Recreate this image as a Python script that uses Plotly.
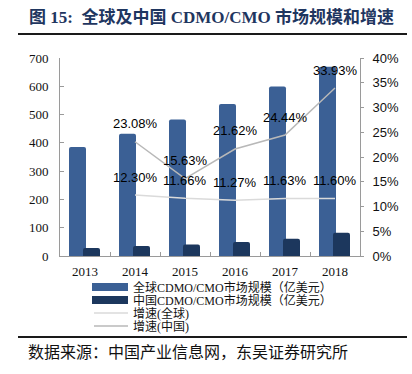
import plotly.graph_objects as go

# ---- data ----
years = ["2013", "2014", "2015", "2016", "2017", "2018"]
global_size = [385, 432, 483, 537, 599, 669]          # 全球CDMO/CMO市场规模（亿美元）
china_size = [28.5, 35.1, 40.6, 49.4, 61.4, 82.3]     # 中国CDMO/CMO市场规模（亿美元）
growth_years = ["2014", "2015", "2016", "2017", "2018"]
global_growth = [12.30, 11.66, 11.27, 11.63, 11.60]   # 增速(全球) %
china_growth = [23.08, 15.63, 21.62, 24.44, 33.93]    # 增速(中国) %
left_ticks = [0, 100, 200, 300, 400, 500, 600, 700]
right_ticks = [0, 5, 10, 15, 20, 25, 30, 35, 40]
right_tick_labels = ["0%", "5%", "10%", "15%", "20%", "25%", "30%", "35%", "40%"]

legend_names = ["全球CDMO/CMO市场规模（亿美元）", "中国CDMO/CMO市场规模（亿美元）",
                "增速(全球)", "增速(中国)"]
title_text = "图 15:  全球及中国 CDMO/CMO 市场规模和增速"
source_text = "数据来源：中国产业信息网，东吴证券研究所"

# ---- styles ----
C_GLOBAL = "#3b6095"
C_CHINA = "#1c375d"
C_LG = "#dadada"
C_LC = "#b8b8b8"
SERIF = "Liberation Serif, Noto Sans CJK SC, serif"
SANS = "Liberation Sans, Arial, sans-serif"
AXC = "#9a9a9a"

W, H = 412, 374
L, R, T, B = 60, 52, 58, 118
PW, PH = W - L - R, H - T - B


def px(x):
    return (x - L) / PW


def py(y):
    return (H - B - y) / PH


fig = go.Figure()
fig.add_trace(go.Bar(x=years, y=global_size, name=legend_names[0], width=0.34, offset=-0.32,
                     marker=dict(color=C_GLOBAL, cornerradius=2, line=dict(width=0)),
                     showlegend=False))
fig.add_trace(go.Bar(x=years, y=china_size, name=legend_names[1], width=0.34, offset=-0.04,
                     marker=dict(color=C_CHINA, cornerradius=2, line=dict(width=0)),
                     showlegend=False))
fig.add_trace(go.Scatter(x=growth_years, y=global_growth, name=legend_names[2], yaxis="y2",
                         mode="lines", line=dict(color=C_LG, width=1.5), showlegend=False))
fig.add_trace(go.Scatter(x=growth_years, y=china_growth, name=legend_names[3], yaxis="y2",
                         mode="lines", line=dict(color=C_LC, width=1.5), showlegend=False))

annotations = []
for series in (china_growth, global_growth):
    for xv, yv in zip(growth_years, series):
        annotations.append(dict(x=years.index(xv), y=yv, xref="x", yref="y2", yshift=18,
                                text=f"{yv:.2f}%", showarrow=False,
                                font=dict(family=SANS, size=13, color="#000")))

# title & source
annotations.append(dict(x=px(27), y=py(17), xref="paper", yref="paper", xanchor="left",
                        yanchor="middle", text=f"<b>{title_text}</b>", showarrow=False,
                        font=dict(family=SERIF, size=17, color="#1f3660")))
annotations.append(dict(x=px(26), y=py(352), xref="paper", yref="paper", xanchor="left",
                        yanchor="middle", text=source_text, showarrow=False,
                        font=dict(family=SERIF, size=16, color="#111")))

shapes = [
    dict(type="line", xref="paper", yref="paper", x0=px(18), x1=px(407), y0=py(34), y1=py(34),
         line=dict(color="#1a1a1a", width=2)),
    dict(type="line", xref="paper", yref="paper", x0=px(18), x1=px(407), y0=py(337), y1=py(337),
         line=dict(color="#1a1a1a", width=2)),
]

# custom legend
rows = [287, 300, 313, 326]
sw = [(C_GLOBAL, "bar"), (C_CHINA, "bar"), (C_LG, "line"), (C_LC, "line")]
for (col, kind), ry, nm in zip(sw, rows, legend_names):
    if kind == "bar":
        shapes.append(dict(type="rect", xref="paper", yref="paper", x0=px(92), x1=px(128),
                           y0=py(ry - 4), y1=py(ry + 4), fillcolor=col, line=dict(width=0)))
    else:
        shapes.append(dict(type="line", xref="paper", yref="paper", x0=px(94), x1=px(128),
                           y0=py(ry), y1=py(ry), line=dict(color=col, width=1.5)))
    annotations.append(dict(x=px(131), y=py(ry), xref="paper", yref="paper", xanchor="left",
                            yanchor="middle", text=nm, showarrow=False,
                            font=dict(family=SERIF, size=12, color="#111")))

fig.update_layout(
    width=W, height=H,
    margin=dict(l=L, r=R, t=T, b=B),
    paper_bgcolor="white", plot_bgcolor="white",
    barmode="overlay",
    showlegend=False,
    xaxis=dict(type="category", range=[-0.5, 5.5], tickson="boundaries", ticks="inside",
               ticklen=4, tickcolor=AXC, showline=True, linecolor=AXC, linewidth=1,
               showgrid=False, ticklabelstandoff=3,
               tickfont=dict(family=SERIF, size=13, color="#111")),
    yaxis=dict(range=[0, 700], tickvals=left_ticks, ticks="inside", ticklen=4, tickcolor=AXC,
               showline=True, linecolor=AXC, linewidth=1, showgrid=False, zeroline=False,
               ticklabelstandoff=8, tickfont=dict(family=SERIF, size=13, color="#111")),
    yaxis2=dict(range=[0, 40], tickvals=right_ticks, ticktext=right_tick_labels,
                overlaying="y", side="right",
                ticks="outside", ticklen=3, tickcolor=AXC, showline=True, linecolor=AXC,
                linewidth=1, showgrid=False, zeroline=False, ticklabelstandoff=6,
                tickfont=dict(family=SANS, size=13, color="#111")),
    annotations=annotations,
    shapes=shapes,
)

fig.write_html("out.html", config={"displayModeBar": False},
               post_script="document.body.style.margin='0';")
